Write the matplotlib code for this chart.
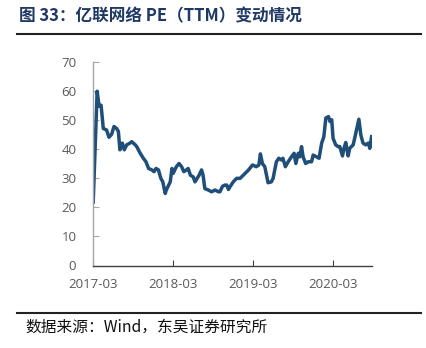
import matplotlib
matplotlib.use("Agg")
import matplotlib.pyplot as plt
import pandas as pd
from matplotlib.lines import Line2D

plt.rcParams['font.family'] = ['Noto Sans CJK SC', 'DejaVu Sans']

dates = [
    "2017-03-02", "2017-03-20", "2017-03-29", "2017-04-07", "2017-04-17", "2017-05-02",
    "2017-05-13", "2017-05-25", "2017-06-05", "2017-06-17", "2017-06-25", "2017-07-02",
    "2017-07-13", "2017-07-22", "2017-08-02", "2017-08-17", "2017-08-25", "2017-09-10",
    "2017-09-17", "2017-10-02", "2017-10-17", "2017-10-29", "2017-11-10", "2017-11-25",
    "2017-12-05", "2017-12-14", "2017-12-25", "2018-01-05", "2018-01-14", "2018-01-25",
    "2018-01-30", "2018-02-06", "2018-02-17", "2018-02-25", "2018-03-02", "2018-03-10",
    "2018-03-17", "2018-03-29", "2018-04-10", "2018-04-20", "2018-05-02", "2018-05-10",
    "2018-05-20", "2018-06-02", "2018-06-10", "2018-06-20", "2018-06-29", "2018-07-10",
    "2018-07-17", "2018-07-25", "2018-08-10", "2018-08-25", "2018-09-10", "2018-09-25",
    "2018-10-02", "2018-10-14", "2018-10-25", "2018-11-02", "2018-11-10", "2018-11-17",
    "2018-12-02", "2018-12-17", "2019-01-02", "2019-01-17", "2019-02-10", "2019-02-28",
    "2019-03-17", "2019-03-29", "2019-04-05", "2019-04-14", "2019-04-25", "2019-05-10",
    "2019-05-25", "2019-06-02", "2019-06-17", "2019-06-28", "2019-07-10", "2019-07-17",
    "2019-07-28", "2019-08-10", "2019-08-25", "2019-09-06", "2019-09-14", "2019-09-25",
    "2019-10-02", "2019-10-10", "2019-10-17", "2019-10-29", "2019-11-10", "2019-11-25",
    "2019-12-02", "2019-12-17", "2019-12-29", "2020-01-10", "2020-01-20", "2020-01-29",
    "2020-02-10", "2020-02-17", "2020-02-25", "2020-03-02", "2020-03-14", "2020-03-25",
    "2020-04-02", "2020-04-14", "2020-04-21", "2020-04-29", "2020-05-10", "2020-05-17",
    "2020-06-02", "2020-06-14", "2020-06-28", "2020-07-07", "2020-07-17", "2020-07-29",
    "2020-08-10", "2020-08-17", "2020-08-25",
]
pe_ttm = [
    21.8, 59.8, 54.6, 55.0, 47.0, 46.5,
    44.0, 45.0, 47.7, 47.0, 46.0, 39.7,
    42.0, 39.7, 41.4, 42.0, 42.5, 41.4,
    40.8, 38.6, 36.8, 35.6, 33.3, 32.8,
    32.2, 33.3, 32.8, 29.9, 28.7, 24.7,
    25.9, 27.0, 28.7, 33.3, 31.6, 32.8,
    33.9, 35.0, 33.9, 32.2, 32.8, 33.3,
    31.0, 30.4, 28.7, 29.9, 31.0, 32.8,
    31.0, 26.4, 25.9, 25.3, 25.9, 25.3,
    25.3, 27.2, 27.6, 27.6, 26.1, 27.0,
    28.7, 29.9, 29.9, 31.0, 32.8, 34.5,
    33.9, 34.5, 38.3, 35.0, 33.9, 28.4,
    28.7, 29.9, 35.6, 36.8, 36.2, 36.8,
    33.9, 35.6, 37.3, 38.5, 35.0, 38.5,
    37.3, 40.8, 37.3, 35.0, 35.6, 35.6,
    37.9, 37.3, 36.8, 42.0, 44.2, 50.6,
    51.1, 49.4, 50.0, 43.7, 41.4, 40.8,
    40.8, 37.6, 40.2, 42.2, 37.6, 40.2,
    41.4, 45.4, 50.2, 44.8, 42.0, 41.4,
    42.0, 40.2, 44.2,
]
xtick_labels = ["2017-03", "2018-03", "2019-03", "2020-03"]
yticks = [0, 10, 20, 30, 40, 50, 60, 70]

title = "图 33：亿联网络 PE（TTM）变动情况"
source = "数据来源：Wind，东吴证券研究所"

x = pd.to_datetime(dates)

fig = plt.figure(figsize=(4.27, 3.48), dpi=100)
W, H = 427, 348
ax = fig.add_axes([93 / W, 1 - 265.5 / H, (372 - 93) / W, (265.5 - 61.5) / H])

ax.plot(x, pe_ttm, color="#1F4E79", lw=2.5, solid_joinstyle="round")

ax.set_ylim(0, 70)
ax.set_yticks(yticks)
ax.set_xlim(pd.Timestamp("2017-03-01"), pd.Timestamp("2020-08-27"))
ax.set_xticks(pd.to_datetime([s + "-01" for s in xtick_labels]))
ax.set_xticklabels(xtick_labels)

for s in ["top", "right"]:
    ax.spines[s].set_visible(False)
ax.spines["left"].set_color("#a6a6a6")
ax.spines["left"].set_linewidth(1.0)
ax.spines["bottom"].set_color("#404040")
ax.spines["bottom"].set_linewidth(1.0)
ax.tick_params(axis="y", direction="in", length=4, width=0.8, color="#a6a6a6",
               labelsize=9.5, labelcolor="#595959", pad=12)
ax.tick_params(axis="x", direction="in", length=4, width=0.8, color="#404040",
               labelsize=9.5, labelcolor="#595959", pad=9)
for lab in ax.get_xticklabels() + ax.get_yticklabels():
    lab.set_family(["Open Sans", "DejaVu Sans"])

fig.text(19 / W, 1 - 16 / H, title, fontsize=12, fontweight="bold", color="#1F3864",
         va="center", ha="left")
fig.add_artist(Line2D([17 / W, 421 / W], [1 - 34 / H, 1 - 34 / H], color="#222222", lw=1.5))
fig.add_artist(Line2D([17 / W, 421 / W], [1 - 312.5 / H, 1 - 312.5 / H], color="#222222", lw=1.5))
fig.text(25 / W, 1 - 327.5 / H, source, fontsize=11.3, color="#111111", va="center", ha="left")

fig.savefig("out.png", dpi=100)
